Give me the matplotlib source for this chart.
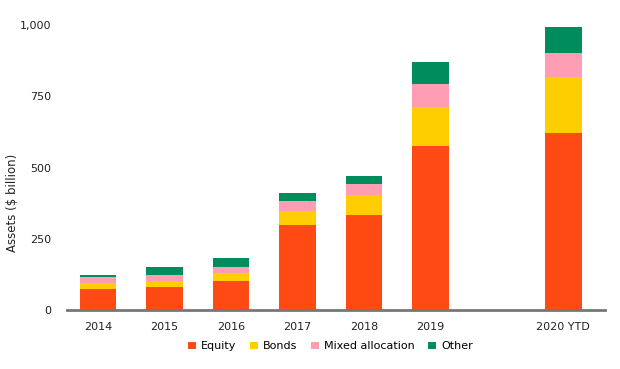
import numpy as np
import matplotlib.pyplot as plt

# ETF assets by asset class ($ billion)
years = ['2014', '2015', '2016', '2017', '2018', '2019', '2020 YTD']
xpos = [0, 1, 2, 3, 4, 5, 7]  # gap before 2020 YTD
equity = [73, 82, 103, 299, 332, 575, 620]
bonds = [21, 21, 27, 50, 72, 139, 197]
mixed = [21, 20, 21, 34, 39, 78, 84]
other = [8, 29, 30, 28, 29, 78, 92]

series = [('Equity', equity, '#ff4a14'),
          ('Bonds', bonds, '#ffce00'),
          ('Mixed allocation', mixed, '#ff9db5'),
          ('Other', other, '#008c5c')]

plt.rcParams['font.family'] = 'DejaVu Sans'

fig = plt.figure(figsize=(6.2, 3.69), dpi=100)
ax = fig.add_axes([0.108, 0.160, 0.868, 0.772])

bottom = np.zeros(len(years))
for name, vals, col in series:
    ax.bar(xpos, vals, width=0.55, bottom=bottom, color=col, label=name, zorder=2)
    bottom += np.array(vals)

ax.set_xlim(-0.47, 7.63)
ax.set_ylim(0, 1000)
ax.set_yticks([0, 250, 500, 750, 1000])
ax.set_yticklabels(['0', '250', '500', '750', '1,000'])
ax.set_xticks(xpos)
ax.set_xticklabels(years)
ax.tick_params(length=0, labelsize=8, colors='#222222')
ax.tick_params(axis='x', pad=9)
ax.tick_params(axis='y', pad=11)

for s in ['top', 'right', 'left']:
    ax.spines[s].set_visible(False)
ax.spines['bottom'].set_color('#777777')
ax.spines['bottom'].set_linewidth(2)
ax.spines['bottom'].set_zorder(3)

ax.set_ylabel('Assets ($ billion)', fontsize=8.5, color='#222222')
ax.yaxis.set_label_coords(-0.09, 0.375)

leg = ax.legend(loc='upper center', bbox_to_anchor=(0.49, -0.075), ncol=4,
                frameon=False, fontsize=8, handlelength=0.7, handleheight=0.7,
                handletextpad=0.5, columnspacing=1.2)

fig.savefig('out.png', dpi=100)
